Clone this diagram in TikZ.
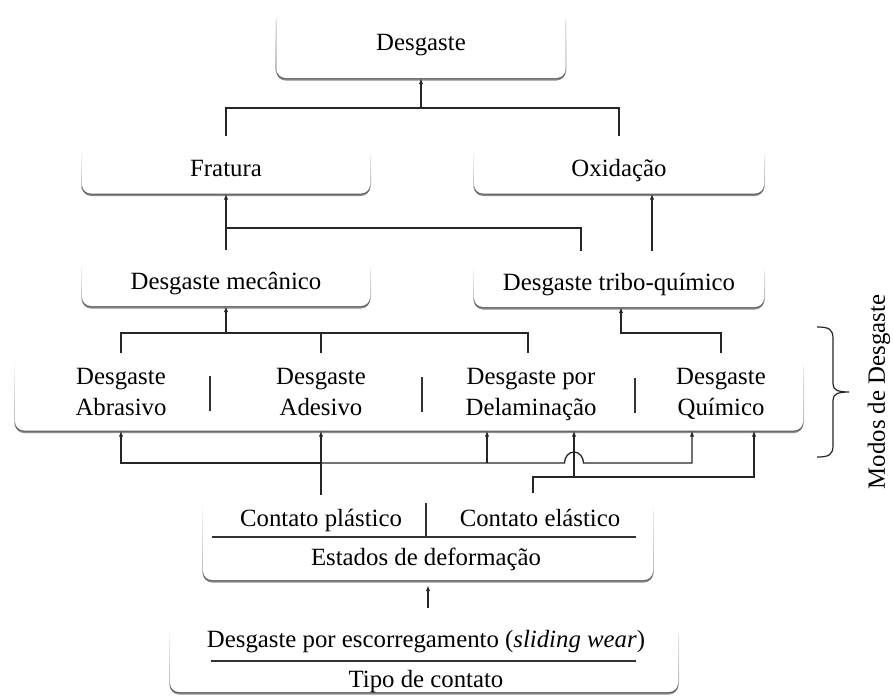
\documentclass[tikz,border=0pt]{standalone}
\usepackage{fontspec}
\setmainfont{Liberation Serif}
\usetikzlibrary{shadows,arrows.meta}
\begin{document}
\begin{tikzpicture}[x=1pt,y=-1pt,
  font=\fontsize{24.8}{30.5}\selectfont,
  wire/.style={line width=1.3pt, black!85},
  arr/.style={wire,-{Latex[length=6pt,width=4.5pt]}},
  box/.style={rounded corners=9pt, fill=white, inner sep=0pt,
    general shadow={shadow xshift=-1pt, shadow yshift=-1pt, top color=white, bottom color=black!30},
    general shadow={shadow xshift=1pt, shadow yshift=-1pt, top color=white, bottom color=black!30},
    drop shadow={shadow xshift=0pt, shadow yshift=-2.5pt, fill=black, opacity=0.45}},
  sep/.style={line width=1.2pt, black!80},
  lbl/.style={inner sep=0pt, align=center}
]
\useasboundingbox (0,0) rectangle (893,696);

% boxes
\node[box, minimum width=289pt, minimum height=68pt] (top) at (421,44) {\strut Desgaste};
\node[box, minimum width=288pt, minimum height=47pt] (frat) at (226,170) {\strut Fratura};
\node[box, minimum width=290pt, minimum height=47pt] (oxi) at (619,170) {\strut Oxidação};
\node[box, minimum width=288pt, minimum height=46pt] (mec) at (226,283) {\strut Desgaste mecânico};
\node[box, minimum width=290pt, minimum height=46pt] (tribo) at (619,284) {\strut Desgaste tribo-químico};

% wear modes
\node[box, minimum width=788pt, minimum height=75pt] (modes) at (409,393) {};
\node[lbl] (abr) at (121,394) {\strut Desgaste\\Abrasivo\strut};
\node[lbl] (ade) at (321,394) {\strut Desgaste\\Adesivo\strut};
\node[lbl] (del) at (531,394) {\strut Desgaste por\\Delaminação\strut};
\node[lbl] (qui) at (721,394) {\strut Desgaste\\Químico\strut};
\draw[sep] (210,376) -- (210,411);
\draw[sep] (422,377) -- (422,412);
\draw[sep] (635,378) -- (635,413);

% deformation states
\node[box, minimum width=450pt, minimum height=80pt] (defo) at (428,540) {};
\node[lbl] (plast) at (321,520) {\strut Contato plástico};
\node[lbl] (elas) at (540,520) {\strut Contato elástico};
\node[lbl] (estados) at (426,559) {\strut Estados de deformação};
\draw[sep] (426,503) -- (426,537);
\draw[sep] (212,537) -- (636,537);

% contact type
\node[box, minimum width=508pt, minimum height=69pt] (bot) at (424,657.5) {};
\node[lbl] (slide) at (426,641) {\strut Desgaste por escorregamento (\textit{sliding wear})};
\node[lbl] (tipo) at (426,681) {\strut Tipo de contato};
\draw[sep] (211,661) -- (636,661);

% brace and its label
\draw[line width=1.2pt, black!85]
  (817,327) .. controls (829,327) and (833,329) .. (833,339) -- (833,384)
  .. controls (833,390) and (838,392) .. (849,392)
  .. controls (838,392) and (833,394) .. (833,400) -- (833,445)
  .. controls (833,455) and (829,457) .. (817,457);
\node[lbl, rotate=90] (modlbl) at (879,392) {Modos de Desgaste};

% connectors: top level
\coordinate (j0) at (421,108);
\draw[wire] ([yshift=10pt]frat.north) |- (j0) -| ([yshift=10pt]oxi.north);
\draw[arr] (j0) -- (top.south);

% connectors: into Fratura and Oxidação
\draw[arr] ([yshift=10pt]mec.north) -- (frat.south);
\coordinate (j1) at (226,228);
\draw[wire] (j1) -| ([xshift=-38pt,yshift=10pt]tribo.north);
\draw[arr] ([xshift=33pt,yshift=10pt]tribo.north) -- ([xshift=33pt]oxi.south);

% connectors: modes to mechanical / tribo-chemical wear
\coordinate (j2) at (226,333);
\draw[arr] (j2) -- (mec.south);
\draw[wire] ([yshift=2pt]abr.center |- modes.north) |- (j2)
  -| ([xshift=-3pt,yshift=2pt]del.center |- modes.north);
\draw[wire] ([yshift=2pt]ade.center |- modes.north) -- (ade.center |- j2);
\coordinate (j3) at (621,333);
\draw[arr] ([yshift=2pt]qui.center |- modes.north) |- (j3) -- (j3 |- tribo.south);

% connectors: plastic contact
\coordinate (a0) at (321,463);
\draw[arr] ([yshift=5pt]plast.center |- defo.north) -- (plast.center |- modes.south);
\draw[arr] (a0) -| (abr.center |- modes.south);
\draw[arr] ([xshift=-44pt]del.center |- a0) -- ([xshift=-44pt]del.center |- modes.south);
\draw[arr] (a0) -- ([xshift=33.5pt]del.center |- a0)
  arc[start angle=180, end angle=0, x radius=9.5pt, y radius=11pt]
  -- ([xshift=-29pt]qui.center |- a0) -- ([xshift=-29pt]qui.center |- modes.south);

% connectors: elastic contact
\coordinate (b0) at (533,477);
\draw[arr] ([xshift=-7pt,yshift=7pt]elas.center |- defo.north) |- ([xshift=33pt]qui.center |- b0)
  -- ([xshift=33pt]qui.center |- modes.south);
\draw[arr] ([xshift=43pt]del.center |- b0) -- ([xshift=43pt]del.center |- modes.south);

% contact type to deformation states
\draw[arr] ([yshift=15pt]defo.south |- bot.north) -- ([yshift=-5pt]defo.south);
\end{tikzpicture}
\end{document}
